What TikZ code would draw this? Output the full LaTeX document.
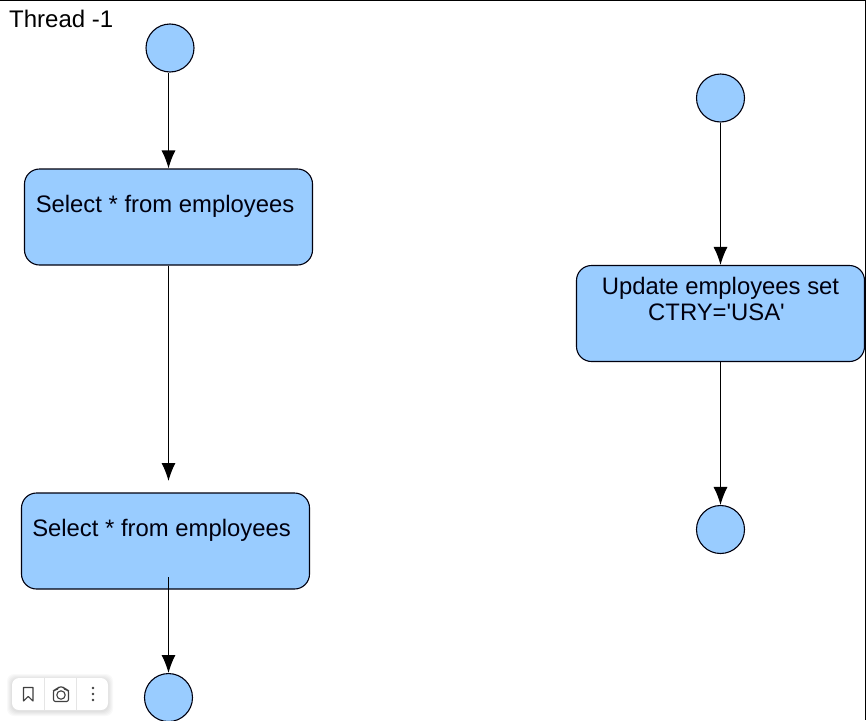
\documentclass[tikz,border=0pt]{standalone}
\usepackage{fontspec}
\newfontfamily\plainsans{Liberation Sans}
\usetikzlibrary{arrows.meta}
\definecolor{fillblue}{HTML}{99CCFF}
\definecolor{inkblue}{HTML}{00000F}
\tikzset{
  x=1pt,y=-1pt,
  endpoint/.style={circle,draw=inkblue,fill=fillblue,line width=1.1pt,minimum size=48pt,inner sep=0pt},
  action/.style={rectangle,rounded corners=15pt,draw=inkblue,fill=fillblue,line width=1.1pt,minimum width=288pt,minimum height=96pt,inner sep=0pt},
  label/.style={font=\plainsans\fontsize{23.85pt}{26pt}\selectfont,text=inkblue,inner sep=0pt,align=center},
  flow/.style={draw=black,line width=1.1pt,-{Latex[length=18pt,width=14pt]}},
  frameline/.style={draw=black,line width=1.2pt},
  iconline/.style={draw=black!75,line width=1.1pt},
}
\begin{document}
\begin{tikzpicture}
\useasboundingbox (0,0) rectangle (866,720);
\fill[white] (0,0) rectangle (866,720);
\draw[frameline] (0,0.6) -- (865.4,0.6) -- (865.4,720);
\node[anchor=base west,font=\plainsans\fontsize{24pt}{26pt}\selectfont,inner sep=0pt] (title) at (9,27) {Thread -1};

\node[endpoint] (s1) at (170,48) {};
\node[action] (a1) at (168.5,217) {};
\node[action] (a2) at (165.5,541) {};
\node[endpoint,anchor=north] (e1) at (168.5,673) {};
\node[endpoint] (s2) at (720.5,98) {};
\node[action] (a3) at (720.5,313.5) {};
\node[endpoint] (e2) at (720.5,529.5) {};

\node[label,anchor=base] (t1) at (165,212) {Select * from employees};
\node[label,anchor=base] (t2) at (161.5,536) {Select * from employees};
\node[label,anchor=base] (t3) at (720.5,294) {Update employees set};
\node[label,anchor=base] (t4) at (716.5,320) {CTRY='USA'};

\coordinate (gapend) at (168.5,481);
\coordinate (gapstart) at (168.5,577);
\draw[flow] (a1.north |- s1.south) -- (a1.north);
\draw[flow] (a1.south) -- (gapend);
\draw[flow] (gapstart) -- (e1.north);
\draw[flow] (s2.south) -- (a3.north);
\draw[flow] (a3.south) -- (e2.north);

% toolbar overlay: soft shadow built from stacked translucent shapes
\foreach \g in {5,4,3,2,1}{
  \fill[black,opacity=0.022,rounded corners=7pt] (12-\g,678-\g+1) rectangle (108+\g,710+\g+1);
}
\node[rectangle,rounded corners=7pt,fill=white,minimum width=96pt,minimum height=32pt,inner sep=0pt] (bar) at (60,694) {};
\draw[black!10,line width=0.8pt] (44.5,678) -- (44.5,710) (76.5,678) -- (76.5,710);
\draw[iconline,line join=round] (23.5,687.5) -- (33,687.5) -- (33,701) -- (28.25,696.5) -- (23.5,701) -- cycle;
\draw[iconline,rounded corners=2pt] (53.5,690) -- (56.5,690) -- (58,687) -- (64,687) -- (65.5,690) -- (68.5,690) -- (68.5,701.5) -- (53.5,701.5) -- cycle;
\draw[iconline] (61,695) circle (4.2pt);
\fill[black!75] (93,688) circle (1.4pt) (93,694) circle (1.4pt) (93,700) circle (1.4pt);
\end{tikzpicture}
\end{document}
